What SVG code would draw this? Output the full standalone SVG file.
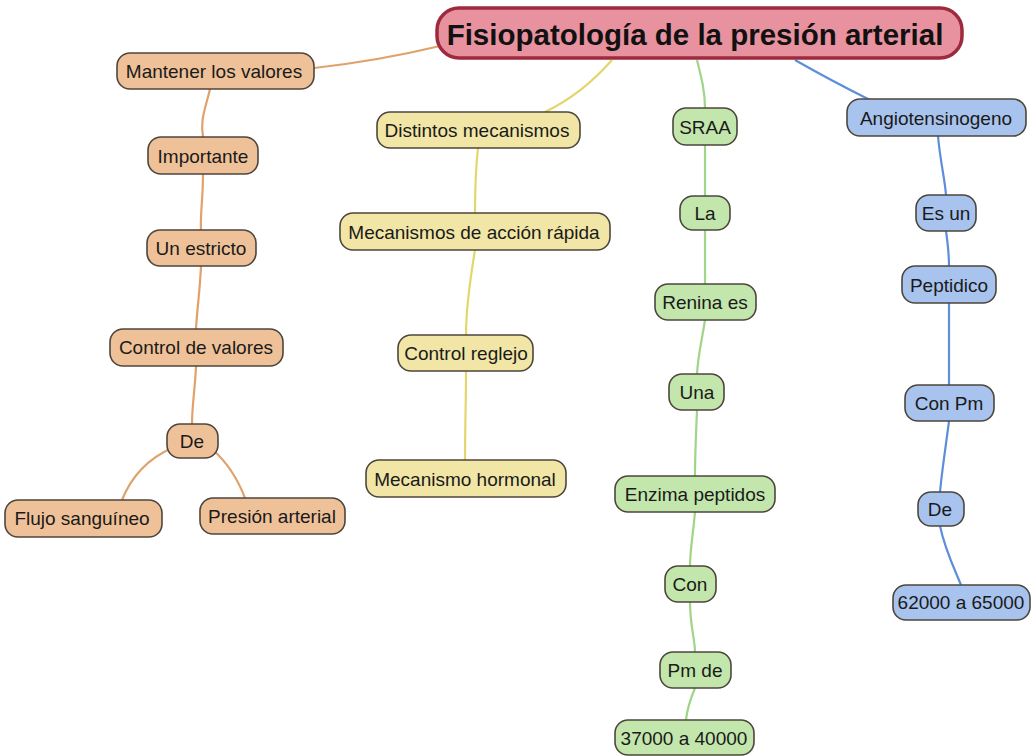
<svg xmlns="http://www.w3.org/2000/svg" width="1036" height="756" viewBox="0 0 1036 756">
<defs>
<style>
.n rect{stroke:#4d463c;stroke-width:1.6}
.n text{font-family:"Liberation Sans",Arial,sans-serif;font-size:19px;fill:#1a1a1a;text-anchor:middle;dominant-baseline:central}
.o rect{fill:#efc198}
.y rect{fill:#f1e6a6}
.g rect{fill:#c2e6ac}
.b rect{fill:#a7c3ee}
.c path{fill:none;stroke-width:2.2}
.co{stroke:#e0a26c}
.cy{stroke:#e3d66c}
.cg{stroke:#9fd588}
.cb{stroke:#5d8fd9}
</style>
</defs>
<rect width="1036" height="756" fill="#ffffff"/>
<g class="c" id="connectors">
<path class="co" d="M440 46 C390 58 350 64 314 68"/>
<path class="co" d="M210 89 C205 110 200 120 203 137"/>
<path class="co" d="M203 174 C203 200 200 215 201 230"/>
<path class="co" d="M201 266 C200 290 197 310 196 329"/>
<path class="co" d="M196 366 C195 390 192 405 192 424"/>
<path class="co" d="M172 448 C145 460 130 480 122 500"/>
<path class="co" d="M213 450 C230 465 240 485 245 498"/>
<path class="cy" d="M612 60 C590 85 570 100 545 112"/>
<path class="cy" d="M478 148 C475 175 475 195 475 213"/>
<path class="cy" d="M475 250 C470 280 466 310 466 335"/>
<path class="cy" d="M466 371 C466 400 465 430 465 460"/>
<path class="cg" d="M697 60 C702 80 705 92 705 108"/>
<path class="cg" d="M705 145 L705 196"/>
<path class="cg" d="M705 230 L705 284"/>
<path class="cg" d="M705 320 C702 340 698 355 697 374"/>
<path class="cg" d="M697 410 C696 435 695 455 695 476"/>
<path class="cg" d="M695 512 C693 535 690 550 690 566"/>
<path class="cg" d="M690 602 C690 625 695 640 695 652"/>
<path class="cg" d="M695 688 C690 700 687 710 686 720"/>
<path class="cb" d="M795 60 C830 80 850 90 870 100"/>
<path class="cb" d="M938 136 C940 160 945 180 946 195"/>
<path class="cb" d="M946 231 C948 245 949 255 949 266"/>
<path class="cb" d="M949 303 C949 330 949 360 949 385"/>
<path class="cb" d="M949 421 C946 445 942 470 940 492"/>
<path class="cb" d="M940 526 C945 550 955 570 961 585"/>
</g>
<g id="root">
<rect x="437" y="8" width="525" height="50" rx="22" fill="#e8929f" stroke="#9e2a3e" stroke-width="3.5"/>
<text x="695" y="34" font-family="'Liberation Sans',Arial,sans-serif" font-size="29.5" font-weight="bold" fill="#111" text-anchor="middle" dominant-baseline="central">Fisiopatología de la presión arterial</text>
</g>
<g id="n1" class="n o"><rect x="117" y="53" width="197" height="36" rx="13"/><text x="214" y="71">Mantener los valores</text></g>
<g id="n2" class="n o"><rect x="148" y="137" width="110" height="37" rx="13"/><text x="203" y="156">Importante</text></g>
<g id="n3" class="n o"><rect x="147" y="230" width="109" height="36" rx="13"/><text x="201" y="248">Un estricto</text></g>
<g id="n4" class="n o"><rect x="110" y="329" width="173" height="37" rx="13"/><text x="196" y="347">Control de valores</text></g>
<g id="n5" class="n o"><rect x="167" y="424" width="51" height="34" rx="13"/><text x="192" y="441">De</text></g>
<g id="n6" class="n o"><rect x="5" y="500" width="157" height="37" rx="13"/><text x="82" y="518">Flujo sanguíneo</text></g>
<g id="n7" class="n o"><rect x="200" y="498" width="145" height="36" rx="13"/><text x="272" y="516">Presión arterial</text></g>
<g id="n8" class="n y"><rect x="377" y="112" width="203" height="36" rx="13"/><text x="477" y="130">Distintos mecanismos</text></g>
<g id="n9" class="n y"><rect x="340" y="213" width="270" height="37" rx="13"/><text x="474" y="232">Mecanismos de acción rápida</text></g>
<g id="n10" class="n y"><rect x="398" y="335" width="135" height="36" rx="13"/><text x="466" y="353">Control reglejo</text></g>
<g id="n11" class="n y"><rect x="366" y="460" width="200" height="37" rx="13"/><text x="465" y="479">Mecanismo hormonal</text></g>
<g id="n12" class="n g"><rect x="673" y="108" width="64" height="37" rx="13"/><text x="705" y="127">SRAA</text></g>
<g id="n13" class="n g"><rect x="680" y="196" width="50" height="34" rx="13"/><text x="705" y="213">La</text></g>
<g id="n14" class="n g"><rect x="655" y="284" width="101" height="36" rx="13"/><text x="705" y="302">Renina es</text></g>
<g id="n15" class="n g"><rect x="669" y="374" width="55" height="36" rx="13"/><text x="697" y="392">Una</text></g>
<g id="n16" class="n g"><rect x="615" y="476" width="160" height="36" rx="13"/><text x="695" y="494">Enzima peptidos</text></g>
<g id="n17" class="n g"><rect x="665" y="566" width="51" height="36" rx="13"/><text x="690" y="584">Con</text></g>
<g id="n18" class="n g"><rect x="660" y="652" width="71" height="36" rx="13"/><text x="695" y="670">Pm de</text></g>
<g id="n19" class="n g"><rect x="615" y="720" width="139" height="35" rx="13"/><text x="684" y="738">37000 a 40000</text></g>
<g id="n20" class="n b"><rect x="847" y="99" width="179" height="37" rx="13"/><text x="936" y="118">Angiotensinogeno</text></g>
<g id="n21" class="n b"><rect x="916" y="195" width="60" height="36" rx="13"/><text x="946" y="213">Es un</text></g>
<g id="n22" class="n b"><rect x="902" y="266" width="94" height="37" rx="13"/><text x="949" y="285">Peptidico</text></g>
<g id="n23" class="n b"><rect x="905" y="385" width="89" height="36" rx="13"/><text x="949" y="403">Con Pm</text></g>
<g id="n24" class="n b"><rect x="918" y="492" width="46" height="34" rx="13"/><text x="940" y="509">De</text></g>
<g id="n25" class="n b"><rect x="893" y="585" width="137" height="35" rx="13"/><text x="961" y="602">62000 a 65000</text></g>
</svg>
